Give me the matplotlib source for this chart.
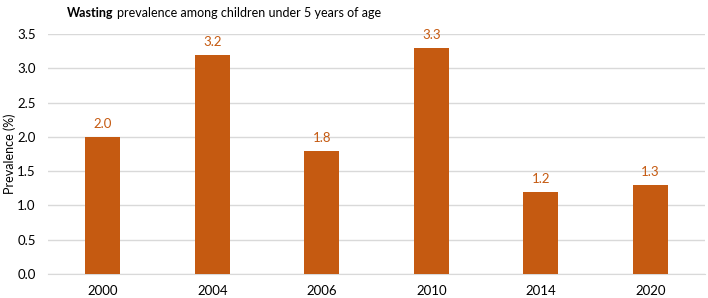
import matplotlib
matplotlib.use("Agg")
from matplotlib import pyplot as plt
import numpy as np

years = ["2000", "2004", "2006", "2010", "2014", "2020"]
prevalence = [2.0, 3.2, 1.8, 3.3, 1.2, 1.3]

bar_color = "#C55A11"
grid_color = "#D9D9D9"

plt.rcParams["font.family"] = ["Lato", "DejaVu Sans"]

fig = plt.figure(figsize=(7.08, 2.98), dpi=100)
ax = fig.add_axes([0.068, 0.0805, 0.928, 0.8055])

x = np.arange(len(years))
ax.bar(x, prevalence, width=0.32, color=bar_color, zorder=3)

for xi, v in zip(x, prevalence):
    ax.text(xi, v + 0.1, f"{v:.1f}", ha="center", va="bottom", fontsize=9.5, color=bar_color)

ax.set_xlim(-0.5, len(years) - 0.5)
ax.set_ylim(0, 3.5)
ticks = np.arange(0, 3.51, 0.5)
ax.set_yticks(ticks)
ax.set_yticklabels([f"{t:.1f}" for t in ticks])
ax.set_xticks(x)
ax.set_xticklabels(years)
ax.tick_params(axis="both", length=0, labelsize=9.5, labelcolor="black")
ax.tick_params(axis="y", pad=9)
ax.tick_params(axis="x", pad=8)
ax.yaxis.grid(True, color=grid_color, lw=1, zorder=0)
for s in ["top", "right", "left"]:
    ax.spines[s].set_visible(False)
ax.spines["bottom"].set_color(grid_color)
ax.set_ylabel("Prevalence (%)", fontsize=9, va="center")
ax.yaxis.set_label_coords(-0.059, 0.5)

# title: bold first word, then normal text
t1 = fig.text(0.095, 0.955, "Wasting", fontsize=9, fontweight="bold", va="center")
fig.canvas.draw()
bb = t1.get_window_extent(fig.canvas.get_renderer()).transformed(fig.transFigure.inverted())
fig.text(bb.x1 + 0.005, 0.955, "prevalence among children under 5 years of age", fontsize=9, va="center")

plt.savefig("out.png", dpi=100)
